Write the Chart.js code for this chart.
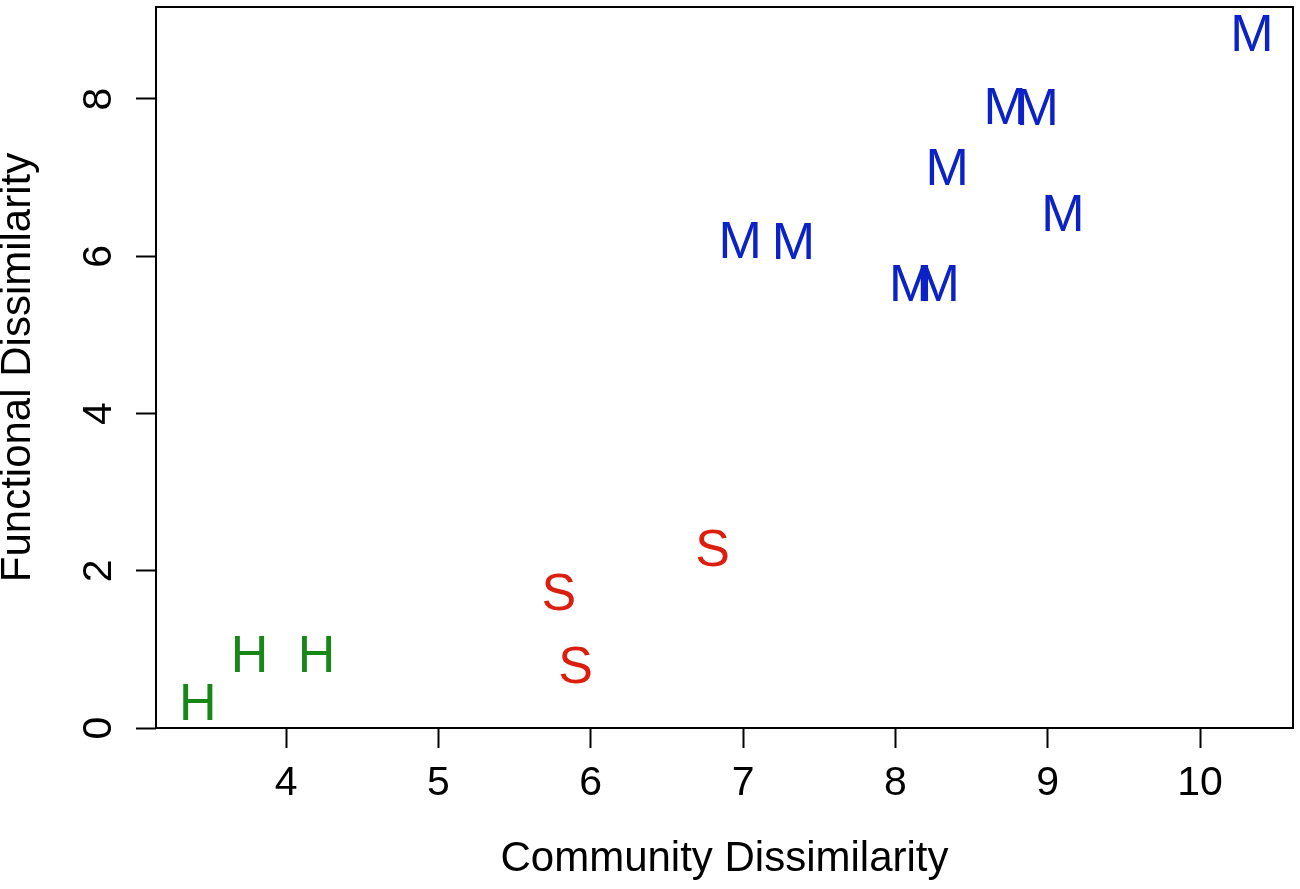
<!DOCTYPE html>
<html>
<head>
<meta charset="utf-8">
<script src="https://cdn.jsdelivr.net/npm/chart.js@4"></script>
<style>
  html, body { margin: 0; padding: 0; background: #fff; }
  #wrap { width: 1300px; height: 889px; }
</style>
</head>
<body>
<div id="wrap"><canvas id="myChart"></canvas></div>
<script>
// group letters, colours
var groups = ['H', 'S', 'M'];
var groupColors = ['#178817', '#DC1E0E', '#0B22C6'];

// community dissimilarity (x) and functional dissimilarity (y) per group
var hX = [3.42, 3.76, 4.20];
var hY = [0.33, 0.95, 0.95];
var sX = [5.79, 5.90, 6.80];
var sY = [1.73, 0.80, 2.30];
var mX = [6.98, 7.33, 8.10, 8.28, 8.34, 8.72, 8.93, 9.10, 10.34];
var mY = [6.21, 6.20, 5.66, 5.67, 7.14, 7.91, 7.90, 6.56, 8.84];

var xTicks = [4, 5, 6, 7, 8, 9, 10];
var yTicks = [0, 2, 4, 6, 8];

function pts(xs, ys) {
    var out = [];
    for (var i = 0; i < xs.length; i++) {
        out.push({x: xs[i], y: ys[i]});
    }
    return out;
}

var allX = [hX, sX, mX];
var allY = [hY, sY, mY];
var datasets = [];
for (var g = 0; g < groups.length; g++) {
    datasets.push({
        label: groups[g],
        data: pts(allX[g], allY[g]),
        pointRadius: 0,
        pointHoverRadius: 0,
        backgroundColor: groupColors[g],
        borderColor: groupColors[g]
    });
}

var FONT = '"Liberation Sans", Arial, sans-serif';

// draw each point as its group letter, like text() in R
var letterPoints = {
    id: 'letterPoints',
    afterDatasetsDraw: function (chart) {
        var ctx = chart.ctx;
        ctx.save();
        ctx.font = '52px ' + FONT;
        ctx.textAlign = 'center';
        ctx.textBaseline = 'middle';
        chart.data.datasets.forEach(function (ds, i) {
            var meta = chart.getDatasetMeta(i);
            ctx.fillStyle = ds.borderColor;
            meta.data.forEach(function (el) {
                ctx.fillText(ds.label, el.x, el.y + 4);
            });
        });
        ctx.restore();
    }
};

// full box around the plot region
var plotBox = {
    id: 'plotBox',
    afterDraw: function (chart) {
        var a = chart.chartArea;
        var ctx = chart.ctx;
        ctx.save();
        ctx.strokeStyle = '#000';
        ctx.lineWidth = 2;
        ctx.strokeRect(a.left, a.top, a.right - a.left, a.bottom - a.top);
        ctx.restore();
    }
};

function noPad(scale) {
    scale.paddingTop = 0;
    scale.paddingBottom = 0;
    scale.paddingLeft = 0;
    scale.paddingRight = 0;
}

var ctx = document.getElementById('myChart').getContext('2d');
var chart = new Chart(ctx, {
    type: 'scatter',
    data: {datasets: datasets},
    options: {
        responsive: true,
        maintainAspectRatio: false,
        animation: false,
        layout: {padding: {top: 7, right: 7, left: 0, bottom: 0}},
        plugins: {
            legend: {display: false},
            tooltip: {enabled: false}
        },
        scales: {
            x: {
                type: 'linear',
                min: 3.146,
                max: 10.61,
                afterBuildTicks: function (scale) {
                    scale.ticks = xTicks.map(function (v) { return {value: v}; });
                },
                afterFit: function (scale) { scale.height = 161; noPad(scale); },
                grid: {
                    display: true,
                    drawOnChartArea: false,
                    drawTicks: true,
                    tickLength: 20,
                    tickWidth: 2,
                    color: '#000'
                },
                border: {display: false},
                ticks: {
                    color: '#000',
                    font: {family: FONT, size: 41},
                    padding: 11,
                    maxRotation: 0,
                    minRotation: 0
                },
                title: {
                    display: true,
                    text: 'Community Dissimilarity',
                    color: '#000',
                    font: {family: FONT, size: 42},
                    padding: {top: 0, bottom: 4}
                }
            },
            y: {
                type: 'linear',
                min: 0,
                max: 9.17,
                afterBuildTicks: function (scale) {
                    scale.ticks = yTicks.map(function (v) { return {value: v}; });
                },
                afterFit: function (scale) { scale.width = 156; noPad(scale); },
                grid: {
                    display: true,
                    drawOnChartArea: false,
                    drawTicks: true,
                    tickLength: 20,
                    tickWidth: 2,
                    color: '#000'
                },
                border: {display: false},
                ticks: {
                    color: '#000',
                    font: {family: FONT, size: 41},
                    padding: 25,
                    minRotation: 90,
                    maxRotation: 90,
                    crossAlign: 'center'
                },
                title: {
                    display: true,
                    text: 'Functional Dissimilarity',
                    color: '#000',
                    font: {family: FONT, size: 42, lineHeight: 0.88},
                    padding: {top: 0, bottom: 0}
                }
            }
        }
    },
    plugins: [letterPoints, plotBox]
});
</script>
</body>
</html>
